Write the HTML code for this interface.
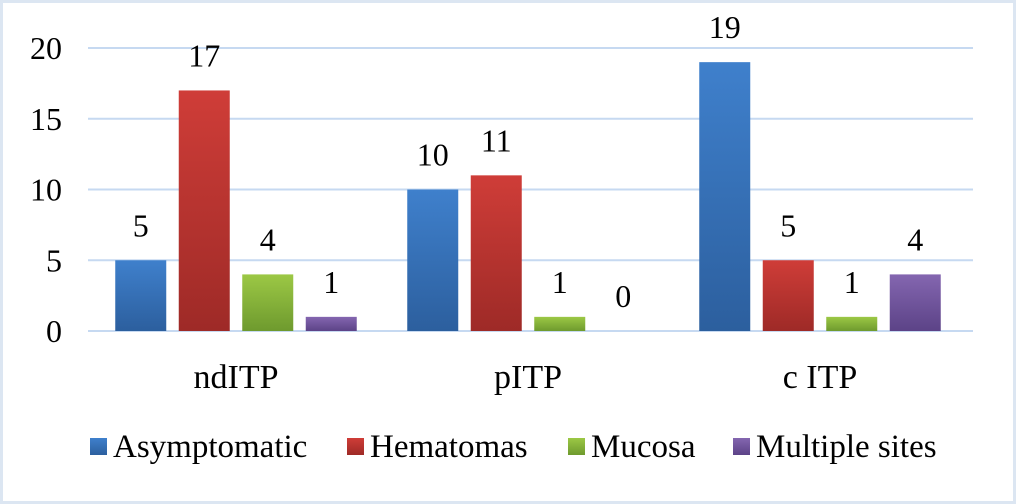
<!DOCTYPE html>
<html><head><meta charset="utf-8"><style>
html,body{margin:0;padding:0;background:#fff}
svg{display:block}
text{font-family:"Liberation Serif",serif;fill:#000}
</style></head><body>
<svg id="chart" width="1016" height="504">
<defs>
<linearGradient id="g0" x1="0" y1="0" x2="0" y2="1"><stop offset="0" stop-color="#3f80cc"/><stop offset="1" stop-color="#2c5f9e"/></linearGradient>
<linearGradient id="g1" x1="0" y1="0" x2="0" y2="1"><stop offset="0" stop-color="#cf3d38"/><stop offset="1" stop-color="#9e2a27"/></linearGradient>
<linearGradient id="g2" x1="0" y1="0" x2="0" y2="1"><stop offset="0" stop-color="#9cc845"/><stop offset="1" stop-color="#6e9a2e"/></linearGradient>
<linearGradient id="g3" x1="0" y1="0" x2="0" y2="1"><stop offset="0" stop-color="#8466b0"/><stop offset="1" stop-color="#5c4387"/></linearGradient>
</defs>
<rect x="1.5" y="1.5" width="1013" height="501" fill="#fff" stroke="#dce6f2" stroke-width="3"/>
<g id="grid"></g><g id="bars"></g><g id="labels"></g><g id="legend"></g>
</svg>
<script>
const categories=["ndITP","pITP","c ITP"];
const seriesNames=["Asymptomatic","Hematomas","Mucosa","Multiple sites"];
const asymptomatic=[5,10,19];
const hematomas=[17,11,5];
const mucosa=[4,1,1];
const multipleSites=[1,0,4];
const yTicks=[0,5,10,15,20];
const series=[asymptomatic,hematomas,mucosa,multipleSites];
const NS="http://www.w3.org/2000/svg";
const x0=88,x1=973,y0=331,y20=48;
const gx0=90,groupW=292;
const y=v=>y0-(v/20)*(y0-y20);
const barW=51,step=63.5;
const bx=(c,s)=>gx0+groupW*c+groupW/2+(s-1.5)*step-barW/2;
function mk(tag,attrs,parent){const e=document.createElementNS(NS,tag);for(const k in attrs)e.setAttribute(k,attrs[k]);parent.appendChild(e);return e;}
const grid=document.getElementById('grid'),bars=document.getElementById('bars'),labels=document.getElementById('labels'),legend=document.getElementById('legend');
yTicks.forEach(t=>{
 const l=mk('line',{x1:x0,x2:x1,y1:y(t),y2:y(t),stroke:'#c6d9f1','stroke-width':2},grid);
 
 
 const tx=mk('text',{x:62,y:y(t)+11,'text-anchor':'end','font-size':32},grid);tx.textContent=t;
 
 
});
categories.forEach((c,ci)=>{
 const tx=mk('text',{x:gx0+groupW*ci+groupW/2,y:388,'text-anchor':'middle','font-size':34},labels);tx.textContent=c;
 
 
 series.forEach((s,si)=>{
  const v=s[ci];
  if(v>0){const r=mk('rect',{x:bx(ci,si),y:y(v),width:barW,height:y0-y(v),fill:'url(#g'+si+')'},bars);
  
  }
  const vl=mk('text',{x:bx(ci,si)+barW/2,y:y(v)-24,'text-anchor':'middle','font-size':32},labels);vl.textContent=v;
  
  
 });
});
const lx=[90,347,568,733];
seriesNames.forEach((n,i)=>{
 const g=mk('g',{},legend);
 
 
 mk('rect',{x:lx[i],y:438,width:17,height:17,fill:'url(#g'+i+')'},g);
 const t=mk('text',{x:lx[i]+23,y:457,'font-size':33},g);t.textContent=n;
});
</script>
</body></html>
